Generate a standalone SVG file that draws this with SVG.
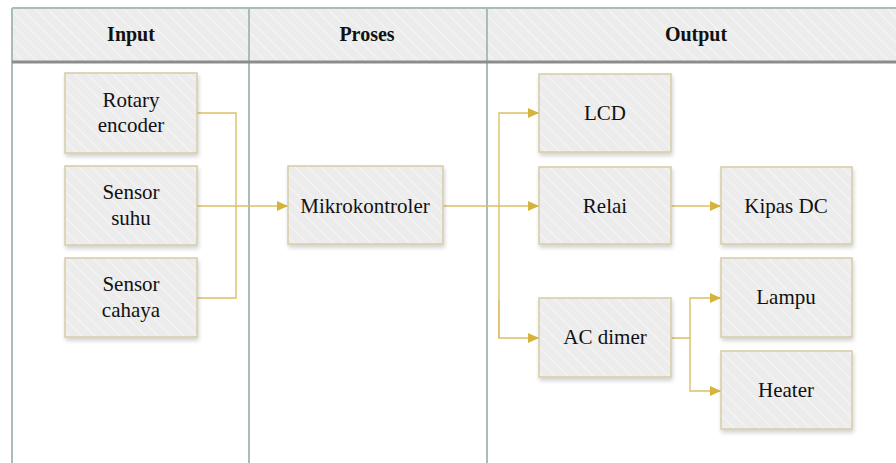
<svg xmlns="http://www.w3.org/2000/svg" width="896" height="463" viewBox="0 0 896 463">
<defs>
<pattern id="hatch" patternUnits="userSpaceOnUse" width="9" height="9" patternTransform="rotate(-45)">
<rect width="9" height="9" fill="#ececec"/>
<line x1="0" y1="0" x2="0" y2="9" stroke="#f6f6f6" stroke-width="2"/>
</pattern>
<filter id="sh" x="-10%" y="-10%" width="125%" height="130%">
<feGaussianBlur in="SourceAlpha" stdDeviation="2"/>
<feOffset dx="1" dy="3" result="b"/>
<feComponentTransfer><feFuncA type="linear" slope="0.18"/></feComponentTransfer>
<feMerge><feMergeNode/><feMergeNode in="SourceGraphic"/></feMerge>
</filter>
<marker id="arr" markerWidth="12" markerHeight="12" refX="11" refY="6" orient="auto" markerUnits="userSpaceOnUse">
<path d="M0,1 L11,6 L0,11 Z" fill="#d6b43c"/>
</marker>
<style>
.lbl,.hd{font-family:'Liberation Serif','Times New Roman',Times,Tinos,'Noto Serif','DejaVu Serif',serif;fill:#111;text-anchor:middle}
.lbl{font-size:21px}
.hd{font-size:20px;font-weight:bold}
.box{fill:url(#hatch);stroke:#d6cca6;stroke-width:1.5;filter:url(#sh)}
.lane{stroke:#a7bdb9;stroke-width:2;fill:none}
.con{stroke:#dcc064;stroke-width:1.4;fill:none}
</style>
</defs>
<rect width="896" height="463" fill="#ffffff"/>
<g id="lanes">
<rect x="12" y="8" width="890" height="53" fill="url(#hatch)"/>
<line class="lane" x1="12" y1="8" x2="896" y2="8"/>
<line class="lane" x1="12" y1="8" x2="12" y2="463"/>
<line class="lane" x1="249" y1="8" x2="249" y2="463"/>
<line class="lane" x1="487" y1="8" x2="487" y2="463"/>
<line x1="12" y1="62" x2="896" y2="62" stroke="#8c8c8c" stroke-width="3"/>
<text class="hd" x="131" y="41">Input</text>
<text class="hd" x="367" y="41">Proses</text>
<text class="hd" x="696" y="41">Output</text>
</g>
<g id="connectors">
<polyline class="con" points="197,113 236,113 236,298 197,298"/>
<line class="con" x1="197" y1="206" x2="288" y2="206" marker-end="url(#arr)"/>
<line class="con" x1="443" y1="206" x2="539" y2="206" marker-end="url(#arr)"/>
<polyline class="con" points="499,338 499,113 539,113" marker-end="url(#arr)"/>
<polyline class="con" points="499,300 499,338 539,338" marker-end="url(#arr)"/>
<line class="con" x1="671" y1="206" x2="721" y2="206" marker-end="url(#arr)"/>
<polyline class="con" points="671,338 690,338 690,298 721,298" marker-end="url(#arr)"/>
<polyline class="con" points="690,338 690,391 721,391" marker-end="url(#arr)"/>
</g>
<g id="rotary"><rect class="box" x="65" y="73" width="132" height="80"/><text class="lbl" x="131" y="107">Rotary</text><text class="lbl" x="131" y="132">encoder</text></g>
<g id="suhu"><rect class="box" x="65" y="166" width="132" height="79"/><text class="lbl" x="131" y="199">Sensor</text><text class="lbl" x="131" y="225">suhu</text></g>
<g id="cahaya"><rect class="box" x="65" y="258" width="132" height="79"/><text class="lbl" x="131" y="291">Sensor</text><text class="lbl" x="131" y="317">cahaya</text></g>
<g id="mikro"><rect class="box" x="288" y="166" width="155" height="78"/><text class="lbl" x="365" y="213">Mikrokontroler</text></g>
<g id="lcd"><rect class="box" x="539" y="74" width="132" height="78"/><text class="lbl" x="605" y="120">LCD</text></g>
<g id="relai"><rect class="box" x="539" y="167" width="132" height="77"/><text class="lbl" x="605" y="213">Relai</text></g>
<g id="kipas"><rect class="box" x="721" y="167" width="131" height="77"/><text class="lbl" x="786" y="213">Kipas DC</text></g>
<g id="acdimer"><rect class="box" x="539" y="298" width="132" height="79"/><text class="lbl" x="605" y="344">AC dimer</text></g>
<g id="lampu"><rect class="box" x="721" y="258" width="131" height="79"/><text class="lbl" x="786" y="304">Lampu</text></g>
<g id="heater"><rect class="box" x="721" y="351" width="131" height="78"/><text class="lbl" x="786" y="397">Heater</text></g>
</svg>
